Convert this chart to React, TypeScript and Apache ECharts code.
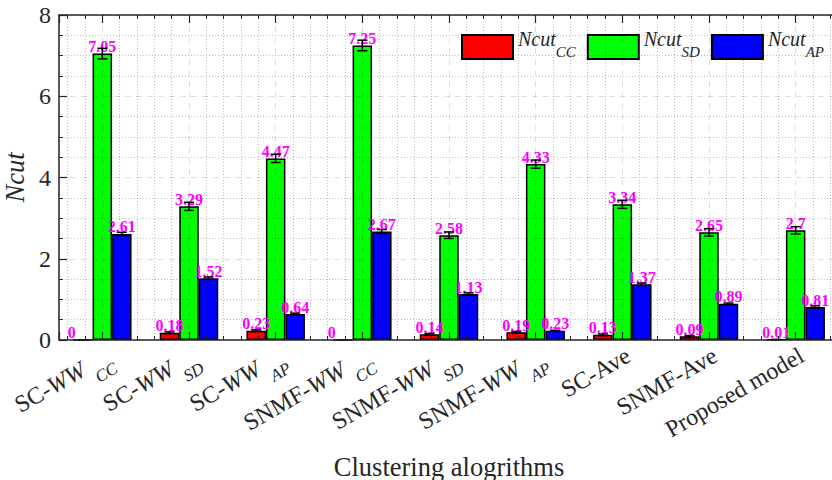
import React, { useEffect, useRef } from "react";
import * as echarts from "echarts";

const categories = [
  "SC-WW_CC",
  "SC-WW_SD",
  "SC-WW_AP",
  "SNMF-WW_CC",
  "SNMF-WW_SD",
  "SNMF-WW_AP",
  "SC-Ave",
  "SNMF-Ave",
  "Proposed model",
];
const seriesNames = ["Ncut_CC", "Ncut_SD", "Ncut_AP"];
const ncutCC = [0, 0.18, 0.23, 0, 0.14, 0.19, 0.13, 0.09, 0.01];
const ncutSD = [7.05, 3.29, 4.47, 7.25, 2.58, 4.33, 3.34, 2.65, 2.7];
const ncutAP = [2.61, 1.52, 0.64, 2.67, 1.13, 0.23, 1.37, 0.89, 0.81];
const errCC = [0.005, 0.02, 0.02, 0.005, 0.02, 0.02, 0.02, 0.02, 0.005];
const errSD = [0.13, 0.1, 0.1, 0.13, 0.08, 0.1, 0.1, 0.09, 0.09];
const errAP = [0.04, 0.03, 0.02, 0.05, 0.03, 0.01, 0.03, 0.02, 0.03];
const yMin = 0;
const yMax = 8;
const yStep = 2;
const xTitle = "Clustering alogrithms";
const yTitle = "Ncut";

const SERIF = "Liberation Serif";
const TEXT = "#262626";
const COLORS = ["#ff0000", "#00ff00", "#0000ff"];
const BAR_W = 19.5;
const MAJOR_GRID = "rgba(38,38,38,0.15)";
const MINOR_GRID = "rgba(38,38,38,0.3)";

function fmtCat(name: string): string {
  const [main, sub] = name.split("_");
  let s = "";
  const m = main.match(/^(.*?)(WW)$/);
  if (m) s = `{n|${m[1]}}{i|${m[2]} }`;
  else s = `{n|${main}}`;
  if (sub) s += `{s|${sub}}`;
  return s;
}

export default function App() {
  const ref = useRef<HTMLDivElement>(null);
  useEffect(() => {
    const chart = echarts.init(ref.current!, null, { renderer: "svg" });
    const values = [ncutCC, ncutSD, ncutAP];
    const errors = [errCC, errSD, errAP];

    const barSeries = values.map((vals, k) => ({
      name: seriesNames[k],
      type: "bar",
      xAxisIndex: 0,
      yAxisIndex: 0,
      data: vals.map((v, i) =>
        v === 0 ? { value: [i + 1, v], label: { offset: [-11, 0] } } : { value: [i + 1, v] }
      ),
      barWidth: BAR_W,
      barGap: "0%",
      itemStyle: { color: COLORS[k], borderColor: "#000", borderWidth: 1.5 },
      label: {
        show: true,
        position: "top",
        distance: -1,
        color: "#ff00ff",
        fontFamily: SERIF,
        fontWeight: "bold",
        fontSize: 16,
        formatter: (p: any) => String(p.value[1]),
      },
    }));

    const errSeries = values.map((vals, k) => ({
      type: "custom",
      xAxisIndex: 0,
      yAxisIndex: 0,
      z: 3,
      silent: true,
      data: vals.map((v, i) => [i + 1, v, errors[k][i]]),
      renderItem: (_params: any, api: any) => {
        const x = api.value(0);
        const y = api.value(1);
        const e = api.value(2);
        const off = (k - 1) * BAR_W;
        const top = api.coord([x, y + e]);
        const bot = api.coord([x, Math.max(0, y - e)]);
        const cx = top[0] + off;
        const hw = 5;
        const style = { stroke: "#000", lineWidth: 1.5, fill: null };
        return {
          type: "group",
          children: [
            { type: "line", shape: { x1: cx, y1: top[1], x2: cx, y2: bot[1] }, style },
            { type: "line", shape: { x1: cx - hw, y1: top[1], x2: cx + hw, y2: top[1] }, style },
            { type: "line", shape: { x1: cx - hw, y1: bot[1], x2: cx + hw, y2: bot[1] }, style },
          ],
        };
      },
    }));

    const axisLine = { show: true, onZero: false, lineStyle: { color: TEXT, width: 1.5 } };
    const axisTick = { show: true, inside: true, length: 8, lineStyle: { color: TEXT, width: 1.2 } };
    const minorTickX = { show: true, splitNumber: 5, length: 4, lineStyle: { color: TEXT, width: 1 } };
    const splitLine = { show: true, lineStyle: { color: MAJOR_GRID, width: 1, type: [6, 5] } };
    const minorSplitLine = { show: true, lineStyle: { color: MINOR_GRID, width: 1, type: [1, 2] } };

    const option: any = {
      animation: false,
      backgroundColor: "#ffffff",
      textStyle: { fontFamily: SERIF },
      grid: { left: 59, right: -7, top: 15, bottom: 140, containLabel: false, outerBoundsMode: "none" },
      legend: {
        data: seriesNames,
        orient: "horizontal",
        left: 456,
        top: 24,
        width: 500,
        itemWidth: 51,
        itemHeight: 24,
        itemGap: 11,
        icon: "rect",
        formatter: (n: string) => {
          const [a, b] = n.split("_");
          return `{n|${a}}{s|${b}}`;
        },
        textStyle: {
          fontFamily: SERIF,
          padding: [0, 0, 6, 0],
          rich: {
            n: { fontFamily: SERIF, fontStyle: "italic", fontSize: 20, lineHeight: 30, verticalAlign: "top", color: TEXT },
            s: { fontFamily: SERIF, fontStyle: "italic", fontSize: 15, lineHeight: 12, verticalAlign: "bottom", color: TEXT },
          },
        },
      },
      xAxis: [
        {
          type: "value",
          position: "bottom",
          min: 0.5,
          max: 9.5,
          minInterval: 1,
          maxInterval: 1,
          splitNumber: 9,
          z: 5,
          axisLine,
          axisTick,
          minorTick: minorTickX,
          splitLine,
          minorSplitLine,
          axisLabel: {
            rotate: 30,
            margin: 3,
            align: "right",
            verticalAlign: "top",
            color: TEXT,
            fontFamily: SERIF,
            formatter: (v: number) =>
              Number.isInteger(v) && v >= 1 && v <= categories.length ? fmtCat(categories[v - 1]) : "",
            rich: {
              n: { fontFamily: SERIF, fontSize: 24, lineHeight: 36, verticalAlign: "top", color: TEXT },
              i: { fontFamily: SERIF, fontStyle: "italic", fontSize: 24, lineHeight: 36, verticalAlign: "top", color: TEXT },
              s: { fontFamily: SERIF, fontStyle: "italic", fontSize: 17, lineHeight: 20, verticalAlign: "bottom", color: TEXT },
            },
          },
          name: xTitle,
          nameLocation: "middle",
          nameGap: 113,
          nameTextStyle: { fontFamily: SERIF, fontSize: 26.5, color: TEXT },
        },
        {
          type: "value",
          position: "top",
          min: 0.5,
          max: 9.5,
          minInterval: 1,
          maxInterval: 1,
          splitNumber: 9,
          z: 5,
          axisLine,
          axisTick,
          minorTick: minorTickX,
          splitLine: { show: false },
          axisLabel: { show: false },
        },
      ],
      yAxis: [
        {
          type: "value",
          min: yMin,
          max: yMax,
          interval: yStep,
          z: 5,
          axisLine,
          axisTick,
          minorTick: { show: true, splitNumber: 4, length: 4, lineStyle: { color: TEXT, width: 1 } },
          splitLine,
          minorSplitLine,
          axisLabel: { fontFamily: SERIF, fontSize: 24, color: TEXT, margin: 8 },
          name: yTitle,
          nameLocation: "middle",
          nameGap: 28,
          nameTextStyle: { fontFamily: SERIF, fontStyle: "italic", fontSize: 26.5, color: TEXT },
        },
      ],
      series: [...barSeries, ...errSeries],
    };
    chart.setOption(option);
    return () => chart.dispose();
  }, []);
  return (
    <div
      ref={ref}
      style={{ position: "fixed", left: 0, top: 0, width: 832, height: 480, background: "#fff" }}
    />
  );
}
